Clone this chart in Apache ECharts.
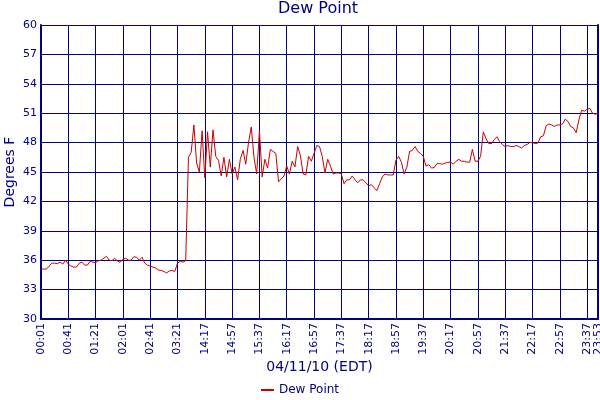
<!DOCTYPE html>
<html>
<head>
<meta charset="utf-8">
<title>Dew Point</title>
<script src="https://cdn.jsdelivr.net/npm/echarts@6/dist/echarts.min.js"></script>
<style>
  html, body { margin: 0; padding: 0; background: #fff; }
  #chart { width: 600px; height: 400px; }
</style>
</head>
<body>
<div id="chart"></div>
<script>
// Amostragem a cada 4 minutos; a madrugada e a tarde ficam em arrays separados
const stepMinutes = 4;
const earlyStart = '00:01';
const lateStart = '13:53';

const dewPointEarly = [
  35.1, 35.1, 35.1, 35.4, 35.7, 35.7, 35.65, 35.8, 35.6, 36.0,
  35.6, 35.4, 35.3, 35.3, 35.7, 35.8, 35.5, 35.5, 35.9, 35.8,
  35.75, 35.95, 36.0, 36.2, 36.4, 36.0, 35.95, 36.2, 35.9, 35.8,
  36.1, 36.2, 36.0, 36.0, 36.35, 36.3, 36.0, 36.3, 35.7, 35.5,
  35.4, 35.3, 35.2, 35.0, 34.95, 34.85, 34.7, 34.9, 34.95, 34.85,
  35.7, 35.9, 35.8, 35.95
];

const dewPointLate = [
  46.5, 47.0, 49.8, 45.9, 45.0, 49.2, 44.4, 49.1, 45.5, 49.3,
  46.6, 46.2, 44.6, 46.5, 44.5, 46.3, 44.8, 45.5, 44.2, 46.3,
  47.2, 45.8, 48.0, 49.6, 46.5, 44.8, 49.2, 44.5, 46.3, 45.4,
  47.3, 47.1, 46.9, 44.0, 44.3, 44.6, 45.6, 44.8, 46.1, 45.5,
  47.6, 46.7, 44.8, 44.7, 46.6, 46.1, 46.9, 47.7, 47.6, 46.6,
  44.9, 46.3, 45.6, 44.8, 44.9, 44.9, 44.8, 43.8, 44.2, 44.2,
  44.6, 44.2, 43.9, 44.2, 44.2, 43.9, 43.6, 43.7, 43.4, 43.1,
  43.8, 44.5, 44.8, 44.7, 44.7, 44.7, 46.2, 46.6, 46.0, 44.8,
  45.5, 47.1, 47.2, 47.6, 47.1, 46.9, 46.6, 45.6, 45.75, 45.4,
  45.45, 45.85, 45.85, 45.8, 45.9, 46.0, 46.0, 45.8, 46.1, 46.3,
  46.1, 46.1, 46.0, 46.0, 47.3, 46.1, 46.1, 46.6, 49.1, 48.4,
  47.9, 47.9, 48.3, 48.6, 48.1, 47.8, 47.6, 47.7, 47.6, 47.6,
  47.7, 47.6, 47.45, 47.7, 47.8, 48.0, 48.0, 47.9, 47.95, 48.6,
  48.7, 49.7, 49.9, 49.8, 49.65, 49.8, 49.8, 49.9, 50.4, 50.15,
  49.65, 49.5, 49.0, 50.3, 51.3, 51.2, 51.4, 51.5, 51.0, 50.9,
  51.0
];

const tickLabels = [
  '00:01', '00:41', '01:21', '02:01', '02:41', '03:21', '14:17', '14:57',
  '15:37', '16:17', '16:57', '17:37', '18:17', '18:57', '19:37', '20:17',
  '20:57', '21:37', '22:17', '22:57', '23:37', '23:53'
];

const yTicks = { min: 30, max: 60, interval: 3 };

const NAVY = '#000080';
const RED = '#cc0000';
const FONT = 'DejaVu Sans';

function timeList(start, count) {
  const parts = start.split(':');
  let t = parseInt(parts[0], 10) * 60 + parseInt(parts[1], 10);
  const out = [];
  for (let i = 0; i < count; i++) {
    const h = Math.floor(t / 60), m = t % 60;
    out.push(String(h).padStart(2, '0') + ':' + String(m).padStart(2, '0'));
    t += stepMinutes;
  }
  return out;
}

const categories = timeList(earlyStart, dewPointEarly.length)
  .concat(timeList(lateStart, dewPointLate.length));
const dewPoint = dewPointEarly.concat(dewPointLate);

const isTick = (index, value) => tickLabels.indexOf(value) !== -1;

const chart = echarts.init(document.getElementById('chart'));
chart.setOption({
  animation: false,
  backgroundColor: '#ffffff',
  title: {
    text: 'Dew Point',
    left: 278,
    top: 1,
    padding: 0,
    textStyle: { color: NAVY, fontSize: 16, fontWeight: 'normal', fontFamily: FONT }
  },
  legend: {
    data: ['Dew Point'],
    left: 'center',
    top: 384,
    padding: 0,
    icon: 'rect',
    itemWidth: 13,
    itemHeight: 2,
    itemGap: 4,
    textStyle: { color: NAVY, fontSize: 12, fontFamily: FONT }
  },
  grid: { left: 41, right: 2, top: 25, bottom: 81, containLabel: false, outerBoundsMode: 'none' },
  xAxis: {
    type: 'category',
    data: categories,
    boundaryGap: false,
    name: '04/11/10 (EDT)',
    nameLocation: 'middle',
    nameGap: 41,
    nameMoveOverlap: false,
    nameTextStyle: { color: NAVY, fontSize: 14, fontFamily: FONT },
    axisLine: { lineStyle: { color: NAVY, width: 2 } },
    axisTick: { show: false },
    axisLabel: {
      interval: isTick,
      rotate: 90,
      margin: 4,
      color: NAVY,
      fontSize: 11,
      fontFamily: FONT,
      hideOverlap: false,
      showMaxLabel: true
    },
    splitLine: { show: true, interval: isTick, lineStyle: { color: NAVY, width: 1 } }
  },
  yAxis: [
    {
      type: 'value',
      min: yTicks.min,
      max: yTicks.max,
      interval: yTicks.interval,
      name: 'Degrees F',
      nameLocation: 'middle',
      nameGap: 24,
      nameMoveOverlap: false,
      nameTextStyle: { color: NAVY, fontSize: 14, fontFamily: FONT },
      axisLine: { show: true, lineStyle: { color: NAVY, width: 2 } },
      axisTick: { show: false },
      axisLabel: { margin: 4, color: NAVY, fontSize: 11, fontFamily: FONT },
      splitLine: { lineStyle: { color: NAVY, width: 1 } }
    },
    {
      type: 'value',
      position: 'right',
      min: yTicks.min,
      max: yTicks.max,
      interval: yTicks.interval,
      axisLine: { show: true, lineStyle: { color: NAVY, width: 2 } },
      axisTick: { show: false },
      axisLabel: { show: false },
      splitLine: { show: false }
    }
  ],
  series: [{
    name: 'Dew Point',
    type: 'line',
    data: dewPoint,
    yAxisIndex: 0,
    symbol: 'none',
    lineStyle: { color: RED, width: 1 },
    itemStyle: { color: RED }
  }]
});
</script>
</body>
</html>
